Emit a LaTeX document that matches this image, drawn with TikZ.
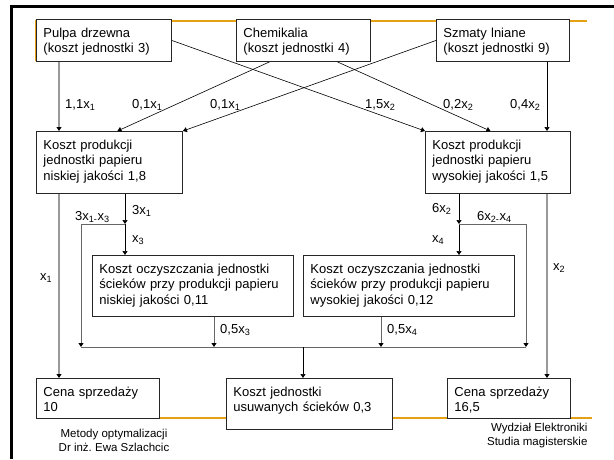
\documentclass[tikz,border=0pt]{standalone}
\usepackage{fontspec}
\setmainfont{Liberation Sans}
\usetikzlibrary{arrows.meta, calc, positioning}
\definecolor{slideorange}{RGB}{230,160,20}
\newcommand\boxfont{\fontsize{13pt}{15.5pt}\selectfont}
\newcommand\footfont{\fontsize{11.5pt}{14pt}\selectfont}
\frenchspacing
\tikzset{
    box/.style 2 args={draw=black!85, line width=0.9pt, fill=white, anchor=north west,
        align=left, inner xsep=7pt, inner ysep=0pt,
        text width=#1, text height=18pt, text depth=#2, font=\boxfont},
    lbl/.style={anchor=base west, inner sep=0pt, font=\boxfont},
    arr/.style={-{Triangle[length=4pt,width=5pt,color=black]}},
    darkl/.style={line width=0.6pt, black},
    midl/.style={line width=1pt, black!60},
    lightl/.style={line width=1.2pt, black!40}
}
\begin{document}
\begin{tikzpicture}[x=1pt, y=-1pt]
    \useasboundingbox (0,0) rectangle (614,459);
    % slide frame
    \draw[line width=3pt] (11,459) -- (11,6) -- (614,6);
    \draw[slideorange, line width=1.3pt] (35.5,61) -- (35.5,21) -- (587,21);
    \draw[slideorange, line width=1.3pt] (159,418) -- (592,418);
    % boxes
    \node[box={121pt}{24pt}] (p1) at (36,19) {Pulpa drzewna\\(koszt jednostki 3)};
    \node[box={120pt}{24pt}] (p2) at (236,19) {Chemikalia\\(koszt jednostki 4)};
    \node[box={119pt}{24pt}] (p3) at (436,19) {Szmaty lniane\\(koszt jednostki 9)};
    \node[box={132pt}{44pt}] (q1) at (36,131) {Koszt produkcji\\jednostki papieru\\niskiej jakości 1,8};
    \node[box={131pt}{44pt}] (q2) at (425,131) {Koszt produkcji\\jednostki papieru\\wysokiej jakości 1,5};
    \node[box={187pt}{43pt}] (c1) at (92,255) {Koszt oczyszczania jednostki\\ścieków przy produkcji papieru\\niskiej jakości 0,11};
    \node[box={197pt}{43pt}] (c2) at (303,255) {Koszt oczyszczania jednostki\\ścieków przy produkcji papieru\\wysokiej jakości 0,12};
    \node[box={109pt}{22pt}] (s1) at (36,378) {Cena sprzedaży\\10};
    \node[box={152pt}{33pt}] (s2) at (226,378) {Koszt jednostki\\usuwanych ścieków 0,3};
    \node[box={109pt}{22pt}] (s3) at (447,378) {Cena sprzedaży\\16,5};
    \coordinate (j1) at (125,224);
    \coordinate (j2) at (459,224);
    \coordinate (b1) at (81,347);
    \coordinate (b2) at (526,347);
    % raw materials
    \draw[lightl, arr] ($(p1.south west)+(23,0)$) -- ($(q1.north west)+(23,0)$);
    \draw[darkl, arr] ($(p2.south)+(-34,0)$) -- ($(q1.north)+(8,0)$);
    \draw[darkl, arr] (p3.west) -- (q1.north east);
    \draw[darkl, arr] (p1.east) -- (q2.north west);
    \draw[darkl, arr] ($(p2.south)+(34,0)$) -- ($(q2.north)+(-7.5,0)$);
    \draw[darkl, arr] ($(p3.south west)+(111,0)$) -- ($(q2.north west)+(122,0)$);
    % production
    \draw[lightl, arr] ($(q1.south west)+(23,0)$) -- ($(s1.north west)+(23,0)$);
    \draw[lightl, arr] ($(q2.south west)+(122,0)$) -- ($(s3.north west)+(100,0)$);
    \draw[darkl, arr] ($(q1.south west)+(89,0)$) -- (j1);
    \draw[darkl, arr] (j1) -- ($(c1.north west)+(33,0)$);
    \draw[midl, arr] (j1) -| (b1);
    \draw[darkl, arr] ($(q2.south west)+(34,0)$) -- (j2);
    \draw[darkl, arr] (j2) -- ($(c2.north west)+(156,0)$);
    \draw[midl, arr] (j2) -| (b2);
    % waste water
    \draw[midl] (b1) -- (b2);
    \draw[midl, arr] ($(c1.south west)+(122,0)$) coordinate (t1) -- (t1 |- b1);
    \draw[midl, arr] ($(c2.south west)+(78,0)$) coordinate (t2) -- (t2 |- b1);
    \coordinate (t3) at ($(s2.north west)+(77,0)$);
    \draw[darkl, arr] (t3 |- b1) -- (t3);
    % labels
    \node[lbl] (l1) at (65,108) {1,1x\textsubscript{1}};
    \node[lbl] (l2) at (132,108) {0,1x\textsubscript{1}};
    \node[lbl] (l3) at (210,108) {0,1x\textsubscript{1}};
    \node[lbl] (l4) at (365,108) {1,5x\textsubscript{2}};
    \node[lbl] (l5) at (443,108) {0,2x\textsubscript{2}};
    \node[lbl] (l6) at (510,108) {0,4x\textsubscript{2}};
    \node[lbl] (l7) at (132,214) {3x\textsubscript{1}};
    \node[lbl] (l8) at (75,220) {3x\textsubscript{1-}x\textsubscript{3}};
    \node[lbl] (l9) at (132,242) {x\textsubscript{3}};
    \node[lbl] (l10) at (40,280) {x\textsubscript{1}};
    \node[lbl] (l11) at (432,212) {6x\textsubscript{2}};
    \node[lbl] (l12) at (477,220) {6x\textsubscript{2-}x\textsubscript{4}};
    \node[lbl] (l13) at (432,242) {x\textsubscript{4}};
    \node[lbl] (l14) at (553,270) {x\textsubscript{2}};
    \node[lbl] (l15) at (220,333) {0,5x\textsubscript{3}};
    \node[lbl] (l16) at (387,333) {0,5x\textsubscript{4}};
    % footer
    \node[font=\footfont, align=center] (f1) at (114,440) {Metody optymalizacji\\Dr inż. Ewa Szlachcic};
    \node[font=\footfont, align=right, anchor=east] (f2) at (591,436) {Wydział Elektroniki\\Studia magisterskie};
\end{tikzpicture}
\end{document}
